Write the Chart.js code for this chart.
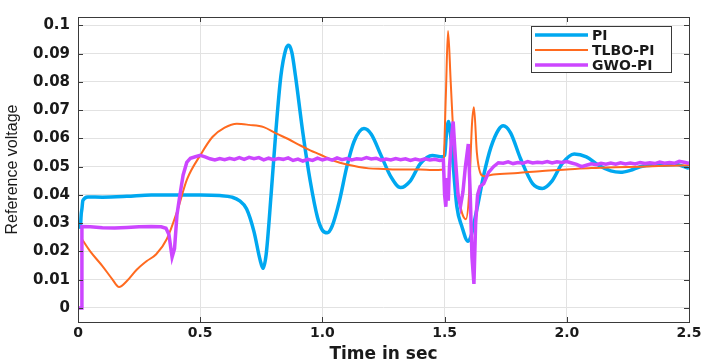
<!DOCTYPE html>
<html>
<head>
<meta charset="utf-8">
<script src="https://cdn.jsdelivr.net/npm/chart.js@4.4.1/dist/chart.umd.min.js"></script>
<style>
  html, body { margin: 0; padding: 0; background: #fff; }
  #wrap { width: 706px; height: 361px; position: relative; }
</style>
</head>
<body>
<div id="wrap"><canvas id="refChart"></canvas></div>
<script>
// Eixo Y: marcas de 0 a 0.1
const yTicks = [0, 0.01, 0.02, 0.03, 0.04, 0.05, 0.06, 0.07, 0.08, 0.09, 0.1];

// PI
const piTime = [0.01, 0.013, 0.016, 0.02, 0.04, 0.1, 0.2, 0.3, 0.4, 0.5, 0.58, 0.63, 0.66, 0.69, 0.72, 0.745, 0.757, 0.77, 0.79, 0.81, 0.83, 0.85, 0.862, 0.875, 0.89, 0.92, 0.95, 0.98, 1.0, 1.02, 1.04, 1.07, 1.1, 1.13, 1.17, 1.2, 1.24, 1.28, 1.32, 1.36, 1.4, 1.45, 1.49, 1.5, 1.508, 1.516, 1.526, 1.55, 1.57, 1.596, 1.61, 1.625, 1.637, 1.66, 1.69, 1.72, 1.74, 1.77, 1.81, 1.86, 1.9, 1.94, 1.98, 2.03, 2.08, 2.13, 2.18, 2.22, 2.26, 2.3, 2.35, 2.4, 2.45, 2.48, 2.5];
const piValues = [0.028, 0.033, 0.035, 0.038, 0.0393, 0.0392, 0.0395, 0.04, 0.04, 0.04, 0.0398, 0.0392, 0.038, 0.035, 0.027, 0.017, 0.014, 0.019, 0.04, 0.063, 0.082, 0.0915, 0.093, 0.0905, 0.082, 0.062, 0.045, 0.032, 0.0275, 0.0266, 0.029, 0.038, 0.05, 0.059, 0.0635, 0.0615, 0.054, 0.0465, 0.0426, 0.045, 0.051, 0.054, 0.0535, 0.054, 0.062, 0.066, 0.06, 0.036, 0.029, 0.0236, 0.026, 0.032, 0.037, 0.047, 0.057, 0.063, 0.0645, 0.062, 0.053, 0.044, 0.0423, 0.045, 0.051, 0.0545, 0.0535, 0.0505, 0.0485, 0.048, 0.0487, 0.05, 0.0505, 0.0505, 0.0508, 0.05, 0.0494];

// TLBO-PI
const tlboTime = [0.015, 0.05, 0.1, 0.14, 0.168, 0.2, 0.24, 0.28, 0.32, 0.364, 0.405, 0.446, 0.5, 0.55, 0.6, 0.65, 0.7, 0.76, 0.81, 0.86, 0.91, 0.95, 0.99, 1.05, 1.1, 1.19, 1.25, 1.32, 1.4, 1.45, 1.494, 1.505, 1.514, 1.525, 1.54, 1.555, 1.57, 1.587, 1.6, 1.612, 1.62, 1.632, 1.645, 1.66, 1.7, 1.8, 1.9, 2.0, 2.1, 2.2, 2.3, 2.4, 2.5];
const tlboValues = [0.0245, 0.02, 0.0148, 0.0102, 0.0074, 0.0095, 0.0135, 0.0165, 0.019, 0.0245, 0.034, 0.0455, 0.054, 0.0605, 0.0638, 0.0652, 0.0648, 0.064, 0.0618, 0.0598, 0.0575, 0.0558, 0.0543, 0.052, 0.0508, 0.0494, 0.0492, 0.049, 0.049, 0.0488, 0.049, 0.075, 0.098, 0.08, 0.055, 0.041, 0.034, 0.0314, 0.04, 0.065, 0.071, 0.055, 0.048, 0.0466, 0.0472, 0.0478, 0.0485, 0.049, 0.0495, 0.0498, 0.05, 0.0503, 0.0505];

// GWO-PI
const gwoTime = [0, 0.014, 0.016, 0.05, 0.1, 0.15, 0.2, 0.25, 0.3, 0.34, 0.36, 0.372, 0.385, 0.395, 0.405, 0.417, 0.43, 0.445, 0.46, 0.48, 0.5, 0.52, 0.54, 0.56,
  0.58, 0.6, 0.62, 0.64, 0.66, 0.68, 0.7, 0.72, 0.74, 0.76, 0.78, 0.8, 0.82, 0.84, 0.86, 0.88, 0.9, 0.92, 0.94, 0.96, 0.98, 1.0,
  1.02, 1.04, 1.06, 1.08, 1.1, 1.12, 1.14, 1.16, 1.18, 1.2, 1.22, 1.24, 1.26, 1.28, 1.3, 1.32, 1.34, 1.36, 1.38, 1.4, 1.42, 1.44, 1.46, 1.48, 1.495,
  1.5, 1.505, 1.51, 1.515, 1.52, 1.53, 1.535, 1.545, 1.555, 1.565, 1.575, 1.585, 1.597, 1.605, 1.612, 1.62, 1.627, 1.635, 1.645, 1.66, 1.68, 1.7,
  1.72, 1.74, 1.76, 1.78, 1.8, 1.82, 1.84, 1.86, 1.88, 1.9, 1.92, 1.94, 1.96, 1.98, 2.0, 2.02, 2.04, 2.06, 2.08, 2.1, 2.12, 2.14, 2.16, 2.18,
  2.2, 2.22, 2.24, 2.26, 2.28, 2.3, 2.32, 2.34, 2.36, 2.38, 2.4, 2.42, 2.44, 2.46, 2.48, 2.5];
const gwoValues = [0, 0, 0.0288, 0.0287, 0.0284, 0.0283, 0.0285, 0.0287, 0.0288, 0.0287, 0.0282, 0.026, 0.018, 0.021, 0.033, 0.04, 0.047, 0.0515, 0.053, 0.0535, 0.054, 0.0535, 0.0528, 0.0524,
  0.0529, 0.0525, 0.053, 0.0526, 0.0532, 0.0526, 0.0533, 0.0528, 0.0532, 0.0524, 0.053, 0.0525, 0.0529, 0.0526, 0.0531, 0.0522, 0.0527, 0.052, 0.0526, 0.0522, 0.053, 0.0524,
  0.0529, 0.0523, 0.0531, 0.0525, 0.0529, 0.0524, 0.0528, 0.0526, 0.0532, 0.0527, 0.053, 0.0523, 0.0527, 0.0524, 0.0529, 0.0525, 0.0528, 0.0522, 0.0527, 0.0523, 0.0528, 0.0524, 0.0526, 0.0522, 0.0524,
  0.04, 0.0358, 0.046, 0.038, 0.05, 0.062, 0.066, 0.052, 0.04, 0.036, 0.041, 0.05, 0.058, 0.04, 0.018, 0.0085, 0.03, 0.04, 0.043, 0.044, 0.048, 0.05,
  0.0514, 0.0512, 0.0517, 0.0511, 0.0515, 0.0512, 0.0518, 0.0513, 0.0516, 0.0514, 0.0518, 0.0513, 0.0517, 0.0515, 0.0518, 0.0513, 0.0508, 0.05, 0.0505, 0.051, 0.0507, 0.0512, 0.0509, 0.0513,
  0.0509, 0.0514, 0.051, 0.0513, 0.051, 0.0515, 0.0511, 0.0514, 0.0511, 0.0516, 0.0512, 0.0515, 0.0512, 0.0519, 0.0516, 0.0512];

const toPoints = (xs, ys) => xs.map((x, i) => ({ x, y: ys[i] }));

const corTexto = '#1a1a1a';
const corGrade = '#e2e2e2';

// Caixa do gráfico, marcas internas e legenda com borda (estilo MATLAB)
const caixaPlugin = {
    id: 'caixa',
    afterDraw(chart) {
        const { ctx, chartArea: a, scales } = chart;
        ctx.save();
        ctx.strokeStyle = '#3a3a3a';
        ctx.lineWidth = 1;
        ctx.strokeRect(Math.round(a.left) + 0.5, Math.round(a.top) + 0.5, Math.round(a.right - a.left), Math.round(a.bottom - a.top));

        // marcas internas
        ctx.beginPath();
        yTicks.forEach(v => {
            const y = Math.round(scales.y.getPixelForValue(v)) + 0.5;
            ctx.moveTo(a.left, y); ctx.lineTo(a.left + 5, y);
            ctx.moveTo(a.right, y); ctx.lineTo(a.right - 5, y);
        });
        scales.x.ticks.forEach(t => {
            const x = Math.round(scales.x.getPixelForValue(t.value)) + 0.5;
            ctx.moveTo(x, a.top); ctx.lineTo(x, a.top + 5);
            ctx.moveTo(x, a.bottom); ctx.lineTo(x, a.bottom - 5);
        });
        ctx.stroke();

        // legenda
        const bx = a.right - 158, by = a.top + 9, bw = 140, bh = 46;
        ctx.fillStyle = '#fff';
        ctx.fillRect(bx, by, bw, bh);
        ctx.strokeStyle = '#3a3a3a';
        ctx.strokeRect(bx + 0.5, by + 0.5, bw, bh);
        ctx.font = 'bold 14px "DejaVu Sans", sans-serif';
        ctx.textBaseline = 'middle';
        chart.data.datasets.forEach((ds, i) => {
            const y = by + 9 + i * 15;
            ctx.strokeStyle = ds.borderColor;
            ctx.lineWidth = ds.borderWidth;
            ctx.beginPath();
            ctx.moveTo(bx + 4, y); ctx.lineTo(bx + 57, y);
            ctx.stroke();
            ctx.fillStyle = corTexto;
            ctx.fillText(ds.label, bx + 61, y + 1);
        });
        ctx.restore();
    }
};

const ctx = document.getElementById('refChart').getContext('2d');
new Chart(ctx, {
    type: 'line',
    data: {
        datasets: [{
            label: 'PI',
            data: toPoints(piTime, piValues),
            borderColor: '#00a8f0',
            borderWidth: 3.5,
            cubicInterpolationMode: 'monotone',
            order: 3
        }, {
            label: 'TLBO-PI',
            data: toPoints(tlboTime, tlboValues),
            borderColor: '#ff6a1f',
            borderWidth: 2,
            cubicInterpolationMode: 'monotone',
            order: 2
        }, {
            label: 'GWO-PI',
            data: toPoints(gwoTime, gwoValues),
            borderColor: '#cc46ff',
            borderWidth: 3.5,
            tension: 0,
            order: 1
        }]
    },
    options: {
        responsive: true,
        maintainAspectRatio: false,
        animation: false,
        layout: { padding: { top: 3, right: 17, left: 0, bottom: 0 } },
        elements: { point: { radius: 0 } },
        plugins: {
            legend: { display: false },
            tooltip: { enabled: false }
        },
        scales: {
            x: {
                type: 'linear',
                min: 0,
                max: 2.5,
                afterFit: (scale) => { scale.height = 39; },
                grid: { color: corGrade, drawTicks: false },
                border: { display: false },
                ticks: {
                    stepSize: 0.5,
                    padding: 3,
                    color: corTexto,
                    maxRotation: 0,
                    font: { family: 'DejaVu Sans', size: 14, weight: 'bold' }
                },
                title: {
                    display: true,
                    text: 'Time in sec',
                    color: corTexto,
                    padding: { top: 0, bottom: -2 },
                    font: { family: 'DejaVu Sans', size: 17, weight: 'bold', lineHeight: 1 }
                }
            },
            y: {
                min: -0.005,
                max: 0.103,
                afterFit: (scale) => { scale.width = 78; },
                afterBuildTicks: (scale) => { scale.ticks = yTicks.map(v => ({ value: v })); },
                grid: { color: corGrade, drawTicks: false },
                border: { display: false },
                ticks: {
                    padding: 8,
                    color: corTexto,
                    callback: (value) => `${Math.round(value * 100) / 100}`,
                    font: { family: 'DejaVu Sans', size: 15, weight: 'bold' }
                },
                title: {
                    display: true,
                    text: 'Reference voltage',
                    color: corTexto,
                    padding: { top: 3, bottom: 0 },
                    font: { family: 'Liberation Sans', size: 16 }
                }
            }
        }
    },
    plugins: [caixaPlugin]
});
</script>
</body>
</html>
